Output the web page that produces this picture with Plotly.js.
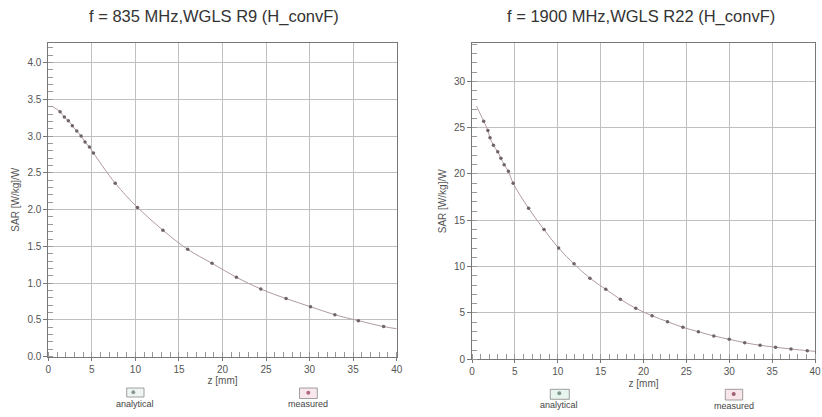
<!DOCTYPE html>
<html>
<head>
<meta charset="utf-8">
<script src="https://cdn.plot.ly/plotly-3.0.1.min.js"></script>
<style>
html,body{margin:0;padding:0;overflow:hidden;background:#fff;}
#chart{width:822px;height:417px;}
</style>
</head>
<body>
<div id="chart"></div>
<script>
// ---- Data ----
const titleLeft = "f = 835 MHz,WGLS R9 (H_convF)";
const titleRight = "f = 1900 MHz,WGLS R22 (H_convF)";
const xTitle = "z [mm]";
const yTitle = "SAR [W/kg]/W";
const legendNames = ["analytical", "measured"];

// 835 MHz - analytical curve
const zLeftLine = [0.4, 1.35, 1.84, 2.3, 2.76, 3.27, 3.76, 4.22, 4.72, 5.18, 7.68, 10.24, 13.16, 16.0, 18.8, 21.6, 24.4, 27.3, 30.1, 32.9, 35.6, 38.5, 40];
const sarLeftLine = [3.41, 3.33, 3.26, 3.21, 3.14, 3.07, 3.0, 2.92, 2.85, 2.77, 2.36, 2.03, 1.72, 1.46, 1.27, 1.08, 0.92, 0.79, 0.68, 0.57, 0.49, 0.41, 0.38];
// 835 MHz - measured points
const zLeftMeas = [1.35, 1.84, 2.3, 2.76, 3.27, 3.76, 4.22, 4.72, 5.18, 7.68, 10.24, 13.16, 16.0, 18.8, 21.6, 24.4, 27.3, 30.1, 32.9, 35.6, 38.5];
const sarLeftMeas = [3.33, 3.26, 3.21, 3.14, 3.07, 3.0, 2.92, 2.85, 2.77, 2.36, 2.03, 1.72, 1.46, 1.27, 1.08, 0.92, 0.79, 0.68, 0.57, 0.49, 0.41];

// 1900 MHz - analytical curve
const zRightLine = [0.53, 1.36, 1.85, 2.1, 2.5, 3.0, 3.37, 3.75, 4.24, 4.8, 6.6, 8.4, 10.1, 11.9, 13.75, 15.6, 17.3, 19.1, 21.0, 22.8, 24.6, 26.4, 28.2, 30.0, 31.8, 33.6, 35.4, 37.2, 39.1, 40];
const sarRightLine = [27.3, 25.7, 24.7, 23.9, 23.1, 22.4, 21.7, 21.0, 20.3, 19.0, 16.3, 14.0, 12.0, 10.3, 8.75, 7.56, 6.48, 5.5, 4.7, 4.06, 3.45, 2.98, 2.52, 2.16, 1.79, 1.51, 1.30, 1.11, 0.93, 0.86];
// 1900 MHz - measured points
const zRightMeas = [1.36, 1.85, 2.1, 2.5, 3.0, 3.37, 3.75, 4.24, 4.8, 6.6, 8.4, 10.1, 11.9, 13.75, 15.6, 17.3, 19.1, 21.0, 22.8, 24.6, 26.4, 28.2, 30.0, 31.8, 33.6, 35.4, 37.2, 39.1];
const sarRightMeas = [25.7, 24.7, 23.9, 23.1, 22.4, 21.7, 21.0, 20.3, 19.0, 16.3, 14.0, 12.0, 10.3, 8.75, 7.56, 6.48, 5.5, 4.7, 4.06, 3.45, 2.98, 2.52, 2.16, 1.79, 1.51, 1.30, 1.11, 0.93];

// ---- Styling ----
const W = 822, H = 417;
const px = v => v / W;
const py = v => 1 - v / H;
const FONT = "Liberation Sans, Arial, sans-serif";
const gridCol = "#c0c0c0";
const tickFont = {family: FONT, size: 10, color: "#555"};

const traces = [
  {x: zLeftLine, y: sarLeftLine, xaxis: "x", yaxis: "y", mode: "lines", line: {color: "#b09a9e", width: 1, shape: "spline"}, name: legendNames[0]},
  {x: zLeftMeas, y: sarLeftMeas, xaxis: "x", yaxis: "y", mode: "markers", marker: {color: "#6e6466", size: 3.5}, name: legendNames[1]},
  {x: zRightLine, y: sarRightLine, xaxis: "x2", yaxis: "y2", mode: "lines", line: {color: "#b09a9e", width: 1, shape: "spline"}, name: legendNames[0]},
  {x: zRightMeas, y: sarRightMeas, xaxis: "x2", yaxis: "y2", mode: "markers", marker: {color: "#6e6466", size: 3.5}, name: legendNames[1]}
];

function xax(domain, range, anchor) {
  return {
    domain: domain, range: range, dtick: 5, tick0: 0, anchor: anchor,
    showgrid: true, gridcolor: gridCol, gridwidth: 1,
    showline: true, linecolor: "#777", linewidth: 1, mirror: true,
    ticks: "outside", ticklen: 3, tickcolor: "#777",
    minor: {dtick: 1, ticks: "inside", ticklen: 5, tickcolor: "#999", showgrid: false},
    tickfont: tickFont, zeroline: false,
    title: {text: xTitle, font: tickFont, standoff: 3}
  };
}
function yax(domain, range, dtick, minor, fmt, anchor) {
  return {
    domain: domain, range: range, dtick: dtick, tick0: 0, tickformat: fmt,
    showgrid: true, gridcolor: gridCol, gridwidth: 1,
    showline: true, linecolor: "#777", linewidth: 1, mirror: true,
    ticks: "outside", ticklen: 4, tickcolor: "#777",
    minor: {dtick: minor, ticks: "inside", ticklen: 5, tickcolor: "#999", showgrid: false},
    tickfont: tickFont, zeroline: false, anchor: anchor,
    title: {text: yTitle, font: tickFont, standoff: 5}
  };
}

function label(text, x, y, size, color) {
  return {text: text, xref: "paper", yref: "paper", x: px(x), y: py(y), xanchor: "center", yanchor: "middle",
          showarrow: false, font: {family: FONT, size: size, color: color}};
}
function box(x0, x1, y0, y1, fill) {
  return {type: "rect", xref: "paper", yref: "paper", x0: px(x0), x1: px(x1), y0: py(y1), y1: py(y0),
          line: {color: "#888", width: 0.8}, fillcolor: fill};
}
function dot(cx, cy, fill) {
  return {type: "circle", xref: "paper", yref: "paper", x0: px(cx - 2), x1: px(cx + 2), y0: py(cy + 2), y1: py(cy - 2),
          line: {width: 0}, fillcolor: fill};
}

const layout = {
  width: W, height: H,
  margin: {l: 0, r: 0, t: 0, b: 0},
  paper_bgcolor: "#fff", plot_bgcolor: "#fff",
  showlegend: false,
  xaxis: xax([px(48.3), px(396.7)], [0, 40], "y"),
  yaxis: yax([py(356.7), py(42.7)], [0, 4.27], 0.5, 0.1, ".1f", "x"),
  xaxis2: xax([px(472), px(815)], [0, 40], "y2"),
  yaxis2: yax([py(359.3), py(43.3)], [0, 34.1], 5, 1, "d", "x2"),
  annotations: [
    label(titleLeft, 214, 17, 16.5, "#333"),
    label(titleRight, 641, 17, 16.5, "#333"),
    label(legendNames[0], 135, 403.5, 9, "#444"),
    label(legendNames[1], 308.3, 403.5, 9, "#444"),
    label(legendNames[0], 558.7, 405, 9, "#444"),
    label(legendNames[1], 734.3, 405.5, 9, "#444")
  ],
  shapes: [
    box(126.7, 144, 388, 397, "#eef5f2"), dot(133.3, 392.3, "#8a9a94"),
    box(299.5, 317.3, 388, 398.5, "#f8e8ee"), dot(308.3, 392.7, "#b06a80"),
    box(550.3, 569.3, 389.3, 399.3, "#e8f4ee"), dot(559.3, 393.3, "#7f9a8e"),
    box(725.3, 742.7, 389.3, 400, "#f8e6ea"), dot(733.7, 394, "#a06070")
  ]
};

Plotly.newPlot("chart", traces, layout, {displayModeBar: false, staticPlot: true});
</script>
</body>
</html>
